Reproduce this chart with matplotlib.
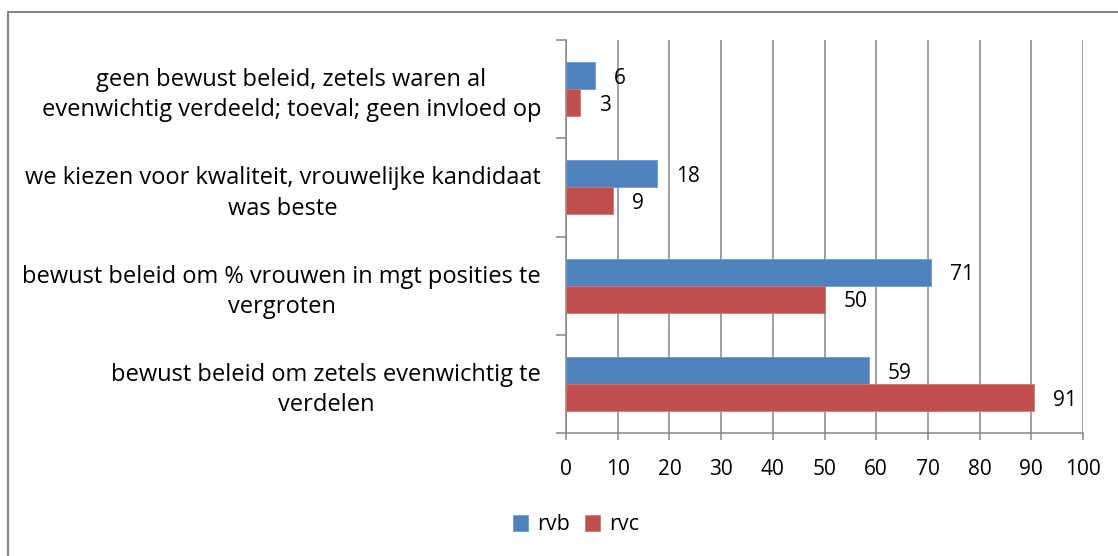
import matplotlib
matplotlib.use("Agg")
import matplotlib.pyplot as plt
from matplotlib.patches import Rectangle
import numpy as np

# ---- data ----
categories = [
    "bewust beleid om zetels evenwichtig te\nverdelen",
    "bewust beleid om % vrouwen in mgt posities te\nvergroten",
    "we kiezen voor kwaliteit, vrouwelijke kandidaat\nwas beste",
    "geen bewust beleid, zetels waren al\nevenwichtig verdeeld; toeval; geen invloed op",
]
rvb = [58.6, 70.6, 17.6, 5.6]
rvc = [90.6, 50.0, 9.1, 2.7]
series_names = ["rvb", "rvc"]
x_ticks = [0, 10, 20, 30, 40, 50, 60, 70, 80, 90, 100]

BLUE = "#4F81BD"
RED = "#C0504D"
GRAY = "#868686"
FONT = "Open Sans"
FS_TXT = 17
FS_LEG = 15.5
FS_NUM = 15

plt.rcParams['font.family'] = [FONT, 'DejaVu Sans']

W, H = 1118, 556
fig = plt.figure(figsize=(W / 100, H / 100), dpi=100)

# outer chart frame
fig.patches.append(Rectangle((8 / W, -0.2), 1.5, 1.2 - 12 / H,
                             transform=fig.transFigure, fill=False,
                             edgecolor=GRAY, linewidth=1.5))

ax = fig.add_axes([566 / W, 1 - 433 / H, (1083 - 566) / W, (433 - 40) / H])

y = np.arange(len(categories))
h = 0.276
b1 = ax.barh(y + h / 2, rvb, height=h, color=BLUE, edgecolor="#6f9bd1",
             linewidth=0.6, label=series_names[0], zorder=3)
b2 = ax.barh(y - h / 2, rvc, height=h, color=RED, edgecolor="#d27572",
             linewidth=0.6, label=series_names[1], zorder=3)

for bars, vals in ((b1, rvb), (b2, rvc)):
    for rect, v in zip(bars, vals):
        ax.annotate(f"{v:.0f}", xy=(v, rect.get_y() + rect.get_height() / 2),
                    xytext=(13.5, -2), textcoords="offset points",
                    ha="left", va="center", fontsize=FS_NUM, color="black",
                    zorder=5)

ax.set_xlim(0, 100)
ax.set_ylim(-0.5, len(categories) - 0.5)
ax.set_xticks(x_ticks)
ax.set_xticklabels([str(t) for t in x_ticks], fontsize=FS_NUM)
ax.set_yticks(y)
ax.set_yticklabels(categories, fontsize=FS_TXT, multialignment="center",
                   linespacing=1.35)
ax.set_yticks(np.arange(-0.5, len(categories), 1.0), minor=True)

ax.tick_params(axis="y", which="major", length=0, pad=18)
ax.tick_params(axis="y", which="minor", length=7.2, width=1.1, color=GRAY,
               direction="out")
ax.tick_params(axis="x", which="major", length=5, width=1.1, color=GRAY,
               direction="out", pad=14)

ax.grid(axis="x", color=GRAY, linewidth=1.1, zorder=0)
ax.set_axisbelow(True)
for s in ("top", "right"):
    ax.spines[s].set_visible(False)
for s in ("left", "bottom"):
    ax.spines[s].set_color(GRAY)
    ax.spines[s].set_linewidth(1.1)

fig.legend(handles=[b1, b2], labels=series_names, loc="center",
           bbox_to_anchor=(576 / W, 1 - 525 / H), ncol=2, frameon=False,
           fontsize=FS_LEG, handlelength=0.7, handleheight=0.7,
           handletextpad=0.4, columnspacing=0.7)

fig.savefig("out.png", dpi=100)
